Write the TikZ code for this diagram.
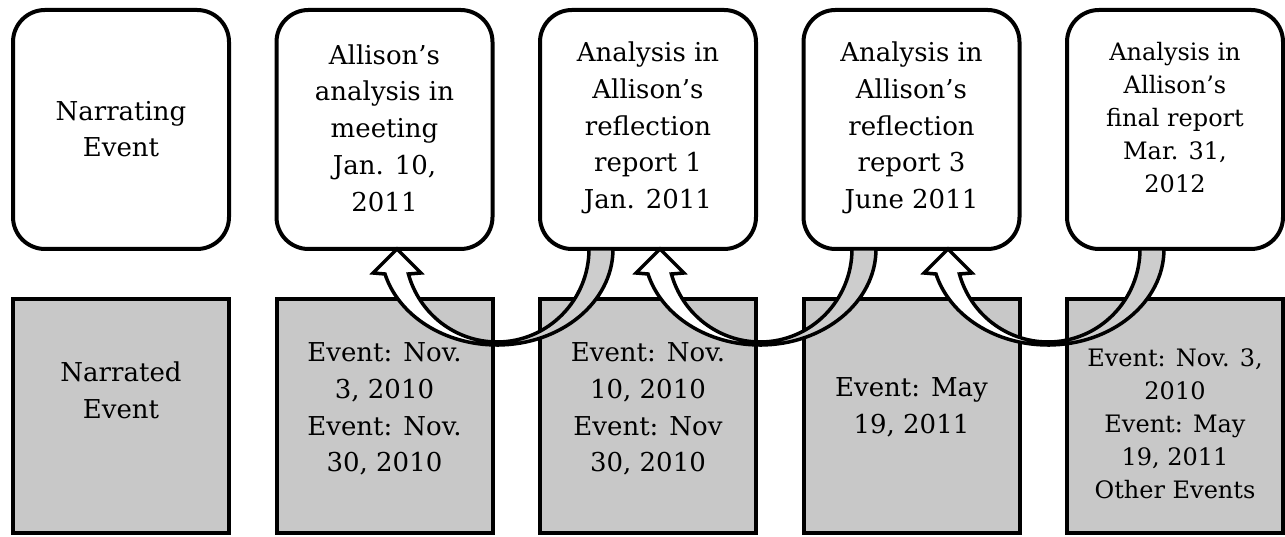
\documentclass[tikz,border=0pt]{standalone}
\usepackage{fontspec}
\setmainfont{DejaVu Serif}
\definecolor{boxgray}{RGB}{200,200,200}
\definecolor{bandgray}{RGB}{205,205,205}
\tikzset{
  topbox/.style={draw, line width=4pt, rounded corners=32pt, fill=white, minimum width=216pt, minimum height=239pt, inner sep=0pt},
  botbox/.style={draw, line width=4pt, fill=boxgray, minimum width=216pt, minimum height=234pt, inner sep=0pt},
  lbl/.style={align=center, font=\fontsize{26}{36.7}\selectfont, inner sep=0pt},
  lblsmall/.style={align=center, font=\fontsize{24}{33}\selectfont, inner sep=0pt},
  band/.style={draw, line width=3.5pt, line join=round, fill=bandgray},
  arrowbody/.style={draw, line width=3.5pt, line join=miter, fill=white},
}
\begin{document}
\begin{tikzpicture}[x=1pt, y=1pt]
\useasboundingbox (0,0) rectangle (1285,537);
% top boxes (narrating events)
\node[topbox] (t1) at (121,407.5) {};
\node[topbox] (t2) at (384.5,407.5) {};
\node[topbox] (t3) at (648,407.5) {};
\node[topbox] (t4) at (911.5,407.5) {};
\node[topbox] (t5) at (1175,407.5) {};
% bottom boxes (narrated events)
\node[botbox] (b1) at (121,121) {};
\node[botbox] (b2) at (384.5,121) {};
\node[botbox] (b3) at (648,121) {};
\node[botbox] (b4) at (911.5,121) {};
\node[botbox] (b5) at (1175,121) {};
% texts
\node[lbl] (tt1) at (121,408) {Narrating\\Event};
\node[lbl] (tt2) at (384.5,409) {Allison’s\\analysis in\\meeting\\Jan. 10,\\2011};
\node[lbl] (tt3) at (648,409) {Analysis in\\Allison’s\\reflection\\report 1\\Jan. 2011};
\node[lbl] (tt4) at (911.5,409) {Analysis in\\Allison’s\\reflection\\report 3\\June 2011};
\node[lblsmall] (tt5) at (1175,419) {Analysis in\\Allison’s\\final report\\Mar. 31,\\2012};
\node[lbl] (bt1) at (121,147) {Narrated\\Event};
\node[lbl] (bt2) at (384.5,128) {Event: Nov.\\3, 2010\\Event: Nov.\\30, 2010};
\node[lbl] (bt3) at (648,128) {Event: Nov.\\10, 2010\\Event: Nov\\30, 2010};
\node[lbl] (bt4) at (911.5,130) {Event: May\\19, 2011};
\node[lblsmall] (bt5) at (1175,113) {Event: Nov. 3,\\2010\\Event: May\\19, 2011\\Other Events};
% curved arrows
\coordinate (a1) at (497,192);
\coordinate (a2) at (760,192);
\coordinate (a3) at (1048,192);
\foreach \a in {a1,a2,a3}{
  \begin{scope}[shift={(\a)}]
    \draw[band] (0,0) arc[start angle=270, end angle=360, x radius=116pt, y radius=96pt]
      -- (92,96) arc[start angle=0, end angle=-90, x radius=92pt, y radius=93pt] -- cycle;
    \draw[arrowbody] (0,0) arc[start angle=270, end angle=195.1, x radius=116pt, y radius=96pt]
      -- (-124,72) -- (-100,96) -- (-76,72) -- (-88.6,71)
      arc[start angle=195.6, end angle=270, x radius=92pt, y radius=93pt] -- cycle;
  \end{scope}
}
\end{tikzpicture}
\end{document}
